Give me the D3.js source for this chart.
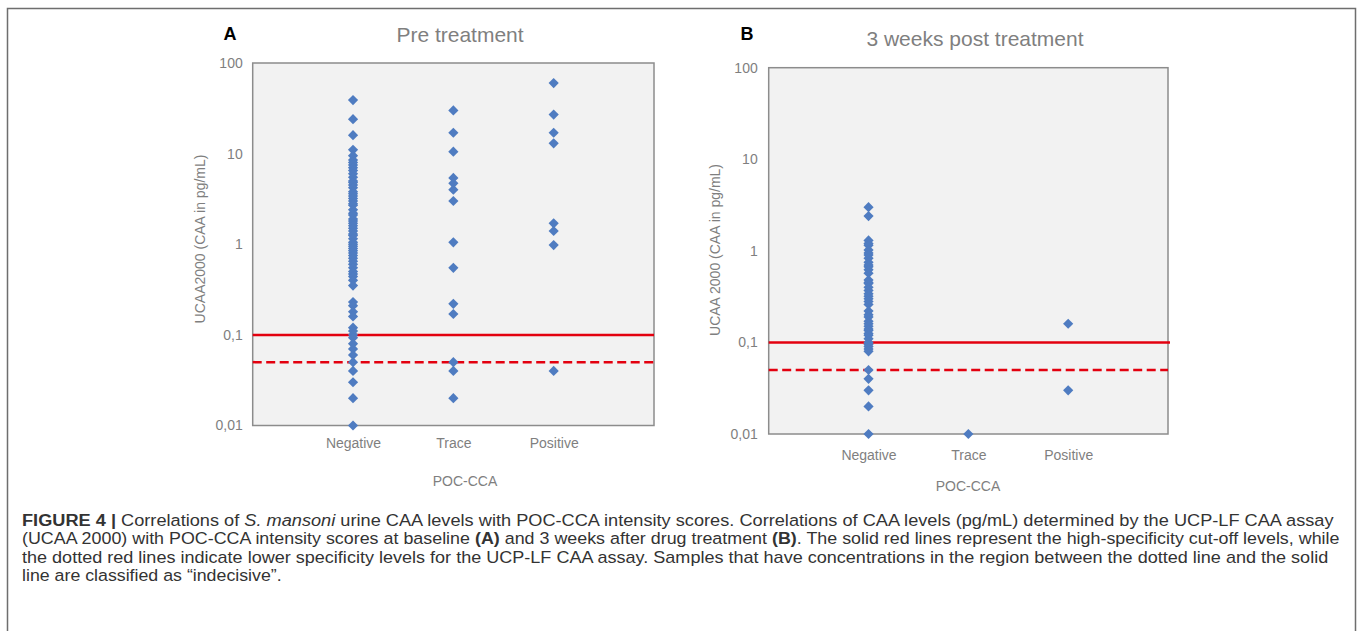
<!DOCTYPE html>
<html>
<head>
<meta charset="utf-8">
<script src="https://cdn.jsdelivr.net/npm/d3@7"></script>
<style>
  html, body { margin: 0; padding: 0; background: #fff; }
  svg { display: block; font-family: "Liberation Sans", Arial, sans-serif; }
</style>
</head>
<body>
<svg id="fig" width="1357" height="631"></svg>
<script>
// categories and axis ticks
var categories = ["Negative", "Trace", "Positive"];
var tickValues = [0.01, 0.1, 1, 10, 100];
var tickLabels = ["0,01", "0,1", "1", "10", "100"];
var cutoffHigh = 0.1;
var cutoffLow = 0.05;

// panel A, pre treatment (pg/mL)
var negativeA = [39, 24, 16, 11, 9.5, 8.5, 8, 7.5, 7, 6.5, 6, 5.5, 5, 4.8, 4.5, 4.2, 3.8, 3.6, 3.4, 3.2,
  3, 2.8, 2.7, 2.4, 2.2, 2.1, 1.9, 1.8, 1.7, 1.6, 1.5, 1.4, 1.3, 1.25, 1.15, 1.05, 1, 0.95, 0.9, 0.85,
  0.8, 0.75, 0.7, 0.65, 0.6, 0.55, 0.5, 0.47, 0.44, 0.4, 0.35,
  0.23, 0.21, 0.18, 0.16, 0.12, 0.11, 0.1, 0.093, 0.08, 0.07, 0.06, 0.05, 0.04, 0.03, 0.02, 0.01];
var traceA = [30, 17, 10.5, 5.4, 4.7, 4, 3, 1.05, 0.55, 0.22, 0.17, 0.05, 0.04, 0.02];
var positiveA = [60, 27, 17, 13, 1.7, 1.4, 0.98, 0.04];

// panel B, 3 weeks post treatment (pg/mL)
var negativeB = [3, 2.4, 1.3, 1.2, 1.15, 1.02, 0.95, 0.9, 0.83, 0.75, 0.7, 0.67, 0.62, 0.57, 0.48,
  0.45, 0.44, 0.4, 0.37, 0.34, 0.32, 0.3, 0.28, 0.26, 0.22, 0.2, 0.19, 0.17, 0.16, 0.15, 0.14, 0.135,
  0.125, 0.12, 0.11, 0.1, 0.095, 0.09, 0.085, 0.08, 0.05, 0.04, 0.03, 0.02, 0.01];
var traceB = [0.01];
var positiveB = [0.16, 0.03];

var captionLines = [
  [["FIGURE 4 | ", "b"], ["Correlations of ", ""], ["S. mansoni", "i"],
   [" urine CAA levels with POC-CCA intensity scores. Correlations of CAA levels (pg/mL) determined by the UCP-LF CAA assay", ""]],
  [["(UCAA 2000) with POC-CCA intensity scores at baseline ", ""], ["(A)", "b"], [" and 3 weeks after drug treatment ", ""],
   ["(B)", "b"], [". The solid red lines represent the high-specificity cut-off levels, while", ""]],
  [["the dotted red lines indicate lower specificity levels for the UCP-LF CAA assay. Samples that have concentrations in the region between the dotted line and the solid", ""]],
  [["line are classified as \u201cindecisive\u201d.", ""]]
];
var captionWidths = [1313, 1318, 1308, 260];

var grey = "#7f7f7f";
var blue = "#4f7cc1";
var red = "#e3000f";

var svg = d3.select("#fig");

// figure frame
svg.append("path")
  .attr("d", "M7.5,640V8.5H1355.5V640")
  .attr("fill", "none")
  .attr("stroke", "#6e6e6e")
  .attr("stroke-width", 1.5);

function drawPanel(p) {
  var g = svg.append("g");
  var x = d3.scalePoint().domain(categories).range([p.left, p.right]).padding(1);
  var y = d3.scaleLog().domain([0.01, 100]).range([p.bottom, p.top]);

  g.append("rect")
    .attr("x", p.left).attr("y", p.top)
    .attr("width", p.right - p.left).attr("height", p.bottom - p.top)
    .attr("fill", "#f2f2f2")
    .attr("stroke", "#8c8c8c")
    .attr("stroke-width", 1.5);

  g.append("line")
    .attr("x1", p.left).attr("x2", p.right + p.overhang)
    .attr("y1", y(cutoffHigh)).attr("y2", y(cutoffHigh))
    .attr("stroke", red).attr("stroke-width", 2.5);

  g.append("line")
    .attr("x1", p.left).attr("x2", p.right)
    .attr("y1", y(cutoffLow)).attr("y2", y(cutoffLow))
    .attr("stroke", red).attr("stroke-width", 2.5)
    .attr("stroke-dasharray", "9,4.5");

  var pts = [];
  p.series.forEach(function(vals, i) {
    vals.forEach(function(v) { pts.push({ cat: categories[i], v: v }); });
  });

  g.append("g").selectAll("path")
    .data(pts)
    .join("path")
    .attr("d", d3.symbol(d3.symbolSquare, 52)())
    .attr("transform", function(d) { return "translate(" + x(d.cat) + "," + y(d.v) + ") rotate(45)"; })
    .attr("fill", blue);

  var yAxis = g.append("g")
    .attr("transform", "translate(" + p.left + ",0)")
    .call(d3.axisLeft(y).tickValues(tickValues).tickSize(0).tickPadding(p.tickPad)
      .tickFormat(function(d, i) { return tickLabels[i]; }));
  yAxis.select(".domain").remove();

  var xAxis = g.append("g")
    .attr("transform", "translate(0," + p.bottom + ")")
    .call(d3.axisBottom(x).tickSize(0).tickPadding(p.catPad));
  xAxis.select(".domain").remove();

  g.selectAll(".tick text")
    .attr("fill", grey)
    .style("font-size", "14px")
    .style("font-family", "'Liberation Sans', Arial, sans-serif");

  g.append("text")
    .attr("transform", "translate(" + p.yLabelX + "," + p.yLabelY + ") rotate(-90)")
    .attr("text-anchor", "middle")
    .attr("fill", grey)
    .style("font-size", "14px")
    .text(p.yLabel);

  g.append("text")
    .attr("x", p.xLabelX).attr("y", p.xLabelY)
    .attr("text-anchor", "middle")
    .attr("fill", grey)
    .style("font-size", "14px")
    .text("POC-CCA");

  g.append("text")
    .attr("x", p.titleX).attr("y", p.titleY)
    .attr("text-anchor", "middle")
    .attr("fill", grey)
    .style("font-size", "21px")
    .text(p.title);

  g.append("text")
    .attr("x", p.letterX).attr("y", p.letterY)
    .attr("text-anchor", "middle")
    .attr("fill", "#000")
    .style("font-size", "18px")
    .style("font-weight", "bold")
    .text(p.letter);
}

drawPanel({
  left: 252.7, right: 654, top: 63, bottom: 425.5, overhang: 0,
  series: [negativeA, traceA, positiveA],
  tickPad: 10, catPad: 13,
  yLabel: "UCAA2000 (CAA in pg/mL)", yLabelX: 205, yLabelY: 239,
  xLabelX: 465, xLabelY: 486,
  title: "Pre treatment", titleX: 460, titleY: 42,
  letter: "A", letterX: 230, letterY: 40
});

drawPanel({
  left: 768.7, right: 1168, top: 67.7, bottom: 434, overhang: 2,
  series: [negativeB, traceB, positiveB],
  tickPad: 11, catPad: 16,
  yLabel: "UCAA 2000 (CAA in pg/mL)", yLabelX: 720, yLabelY: 250,
  xLabelX: 968, xLabelY: 491,
  title: "3 weeks post treatment", titleX: 975, titleY: 46,
  letter: "B", letterX: 747, letterY: 40
});

// caption, each line stretched to the measured width
var cap = svg.append("g");
captionLines.forEach(function(line, i) {
  var row = cap.append("g");
  var t = row.append("text")
    .attr("x", 0).attr("y", 0)
    .attr("fill", "#333")
    .style("font-size", "17px")
    .style("font-family", "'Liberation Sans', Arial, sans-serif");
  line.forEach(function(seg) {
    t.append("tspan")
      .attr("font-weight", seg[1] === "b" ? "bold" : null)
      .attr("font-style", seg[1] === "i" ? "italic" : null)
      .text(seg[0]);
  });
  var w = t.node().getBBox().width;
  row.attr("transform", "translate(22," + (526 + i * 18.3) + ") scale(" + (captionWidths[i] / w) + ",1)");
});
</script>
</body>
</html>
